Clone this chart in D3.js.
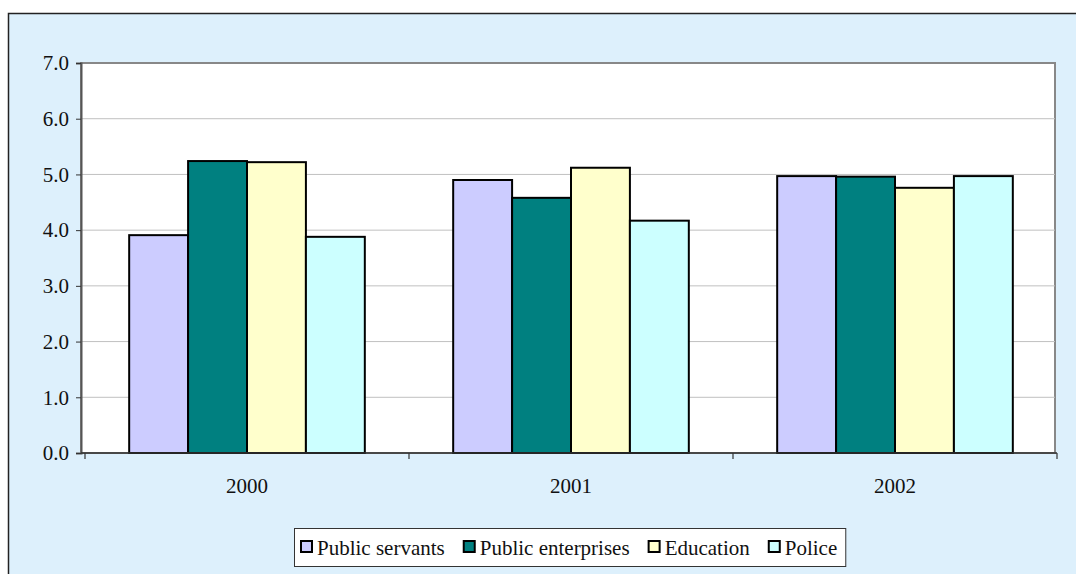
<!DOCTYPE html>
<html>
<head>
<meta charset="utf-8">
<script src="https://cdn.jsdelivr.net/npm/d3@7"></script>
<style>
  body { margin: 0; background: #fff; }
</style>
</head>
<body>
<svg id="chart"></svg>
<script>
const years = ['2000', '2001', '2002'];
const seriesNames = ['Public servants', 'Public enterprises', 'Education', 'Police'];
const seriesColors = ['#CCCCFF', '#008080', '#FFFFCC', '#CCFFFF'];
const publicServants = [3.91, 4.90, 4.97];
const publicEnterprises = [5.24, 4.58, 4.96];
const education = [5.22, 5.12, 4.76];
const police = [3.88, 4.17, 4.97];
const yTicks = [0, 1, 2, 3, 4, 5, 6, 7];

const values = [publicServants, publicEnterprises, education, police];
const data = years.map((yr, i) => ({
  year: yr,
  vals: seriesNames.map((s, j) => ({ key: s, value: values[j][i], color: seriesColors[j] }))
}));

const FONT = "'Liberation Serif', 'Times New Roman', 'DejaVu Serif', serif";

const W = 1076, H = 574;
const svg = d3.select('#chart').attr('width', W).attr('height', H);

// outer chart area
svg.append('rect')
  .attr('x', 8.5).attr('y', 13.5)
  .attr('width', W + 10).attr('height', H + 10)
  .attr('fill', '#DDF0FC')
  .attr('stroke', '#222').attr('stroke-width', 1.5);

const plot = { left: 81, right: 1055, top: 63, bottom: 453 };

// x axis scale (category bands)
const x = d3.scaleBand()
  .domain(years)
  .range([85, 1057]);

// bars inside a category, gap width 150%
const inner = d3.scaleBand()
  .domain(seriesNames)
  .range([0, x.bandwidth()])
  .paddingOuter(0.75)
  .paddingInner(0);

// y axis scale
const y = d3.scaleLinear()
  .domain([0, 7])
  .range([plot.bottom, plot.top]);

// plot background
svg.append('rect')
  .attr('x', plot.left).attr('y', plot.top)
  .attr('width', plot.right - plot.left).attr('height', plot.bottom - plot.top)
  .attr('fill', '#fff')
  .attr('stroke', '#888').attr('stroke-width', 2);

// gridlines
svg.append('g')
  .selectAll('line')
  .data(yTicks.filter(d => d > 0 && d < 7))
  .join('line')
  .attr('x1', plot.left).attr('x2', plot.right)
  .attr('y1', d => y(d)).attr('y2', d => y(d))
  .attr('stroke', '#C0C0C0').attr('stroke-width', 1);

// bars
const groups = svg.append('g')
  .selectAll('g')
  .data(data)
  .join('g')
  .attr('transform', d => 'translate(' + x(d.year) + ',0)');

groups.selectAll('rect')
  .data(d => d.vals)
  .join('rect')
  .attr('x', d => inner(d.key))
  .attr('width', inner.bandwidth())
  .attr('y', d => y(d.value))
  .attr('height', d => y(0) - y(d.value))
  .attr('fill', d => d.color)
  .attr('stroke', '#000')
  .attr('stroke-width', 2);

// y axis
const yAxis = svg.append('g')
  .attr('transform', 'translate(' + plot.left + ',0)')
  .call(d3.axisLeft(y).tickValues(yTicks).tickFormat(d3.format('.1f')).tickSize(5).tickPadding(7));
yAxis.select('.domain').attr('stroke', '#555').attr('stroke-width', 2);
yAxis.selectAll('.tick line').attr('stroke', '#333');

// x axis
const xAxis = svg.append('g')
  .attr('transform', 'translate(0,' + plot.bottom + ')')
  .call(d3.axisBottom(x).tickSize(0).tickPadding(25));
xAxis.select('.domain').attr('stroke', '#333').attr('stroke-width', 1.5)
  .attr('d', 'M' + plot.left + ',0H1057');
// category boundary ticks
xAxis.append('g')
  .selectAll('line')
  .data(years.map(d => x(d)).concat([x(years[years.length - 1]) + x.bandwidth()]))
  .join('line')
  .attr('x1', d => d).attr('x2', d => d)
  .attr('y1', 0).attr('y2', 6)
  .attr('stroke', '#333').attr('stroke-width', 1.2);

// axis groups carry their own font attrs; clear them
[yAxis, xAxis].forEach(a => a.attr('font-family', null).attr('font-size', null));

// legend
const legend = svg.append('g').attr('transform', 'translate(294,528)');
const legendBox = legend.append('rect')
  .attr('x', 0.5).attr('y', 0.5).attr('height', 38)
  .attr('fill', '#fff').attr('stroke', '#333').attr('stroke-width', 1);

const items = legend.selectAll('g.item')
  .data(seriesNames)
  .join('g')
  .attr('class', 'item');
items.append('rect')
  .attr('x', 0).attr('y', 13).attr('width', 11).attr('height', 11)
  .attr('fill', (d, i) => seriesColors[i])
  .attr('stroke', '#000').attr('stroke-width', 2);
items.append('text')
  .attr('x', 16).attr('y', 27)
  .text(d => d);

// one text style for every label
svg.selectAll('text')
  .style('font-family', FONT)
  .style('font-size', '21px')
  .style('fill', '#111');

// lay out legend items from their measured widths
let lx = 7;
items.each(function(d, i) {
  const g = d3.select(this);
  g.attr('transform', 'translate(' + lx + ',0)');
  lx += 16 + g.select('text').node().getComputedTextLength() + (i < seriesNames.length - 1 ? 19 : 8);
});
legendBox.attr('width', lx);
</script>
</body>
</html>
